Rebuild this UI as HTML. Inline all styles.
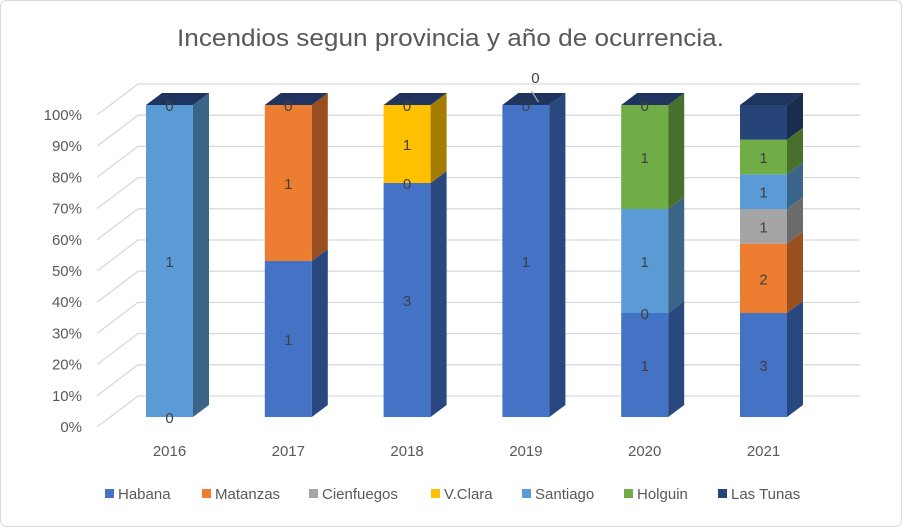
<!DOCTYPE html>
<html><head><meta charset="utf-8"><style>
html,body{margin:0;padding:0;background:#fff;}
svg{display:block;font-family:"Liberation Sans",sans-serif;}
</style></head><body>
<svg id="chart" width="902" height="527" viewBox="0 0 902 527">
<rect x="0.5" y="0.5" width="901" height="526" rx="6" fill="#fff" stroke="#d9d9d9"/>
<text x="177" y="46" font-size="24" fill="#595959" textLength="547" lengthAdjust="spacingAndGlyphs">Incendios segun provincia y año de ocurrencia.</text>
<g id="grid"></g><g id="bars"></g><g id="labels"></g><g id="legend"></g>
</svg>
<script>
const categories = ["2016","2017","2018","2019","2020","2021"];
const seriesNames = ["Habana","Matanzas","Cienfuegos","V.Clara","Santiago","Holguin","Las Tunas"];
const habana     = [0,1,3,1,1,3];
const matanzas   = [0,1,0,0,0,2];
const cienfuegos = [0,0,0,0,0,1];
const vclara     = [0,0,1,0,0,0];
const santiago   = [1,0,0,0,1,1];
const holguin    = [0,0,0,0,1,1];
const lastunas   = [0,0,0,0,0,1];
const yTickLabels = ["0%","10%","20%","30%","40%","50%","60%","70%","80%","90%","100%"];

const series=[habana,matanzas,cienfuegos,vclara,santiago,holguin,lastunas];
const front=["#4472C4","#ED7D31","#A5A5A5","#FFC000","#5B9BD5","#70AD47","#264478"];
const side=["#2A4880","#9A501E","#6B6B6B","#A67C00","#3A6589","#48702C","#182C4D"];
const topCol="#1F3560";
const NS="http://www.w3.org/2000/svg";
const y0=417,yH=312,dx=16,dy=-12,bw=47,x0=146,step=118.8;
const yS=p=>y0-p*yH;
const xS=i=>x0+i*step;
function mk(tag,attrs,parent){const e=document.createElementNS(NS,tag);for(const k in attrs)e.setAttribute(k,attrs[k]);parent.appendChild(e);return e;}
const G=document.getElementById('grid'),B=document.getElementById('bars'),L=document.getElementById('labels'),LG=document.getElementById('legend');
yTickLabels.forEach((t,k)=>{
  const p=k/10, yf=yS(p)+10, yb=yf-31;
  const d=mk('polyline',{points:`97,${yf} 138,${yb} 860,${yb}`,fill:'none',stroke:'#d9d9d9','stroke-width':1.3},G);
  
  const tx=mk('text',{x:82,y:yf+5,'text-anchor':'end','font-size':15,fill:'#595959'},G);
  
  tx.textContent=t;
});
categories.forEach((c,i)=>{
  const tx=mk('text',{x:xS(i)+bw/2,y:456,'text-anchor':'middle','font-size':15,fill:'#595959'},G);
  
  tx.textContent=c;
});
categories.forEach((c,i)=>{
  const total=series.reduce((a,s)=>a+s[i],0);
  let cum=0;const x=xS(i);
  series.forEach((s,j)=>{
    const v=s[i];const p0=cum/total,p1=(cum+v)/total;cum+=v;
    const ya=yS(p0),yb=yS(p1);
    if(v>0){
      const r=mk('rect',{x:x,y:yb,width:bw,height:ya-yb,fill:front[j]},B);
      
      
      const sd=mk('polygon',{points:`${x+bw},${ya} ${x+bw+dx},${ya+dy} ${x+bw+dx},${yb+dy} ${x+bw},${yb}`,fill:side[j]},B);
      
    }
    const showLabel=(j===6)?v===0:(v>0||(j===0&&i===0)||(j===1&&i===2)||(j===1&&i===4));
    if(showLabel){
      const t=mk('text',{x:x+bw/2,y:(ya+yb)/2+6,'text-anchor':'middle','font-size':15,fill:'#404040'},L);
      
      t.textContent=v;
    }
  });
  const yt=yS(1);
  const tp=mk('polygon',{points:`${x},${yt} ${x+dx},${yt+dy} ${x+bw+dx},${yt+dy} ${x+bw},${yt}`,fill:topCol},B);
  
});
const ll=mk('line',{x1:xS(3)+29,y1:91,x2:xS(3)+36,y2:102,stroke:'#a6a6a6','stroke-width':1.3},L);

const lt=mk('text',{x:xS(3)+33,y:83,'text-anchor':'middle','font-size':15,fill:'#404040'},L);

lt.textContent='0';
const legX=[105,202,309,431,522,624,718];
seriesNames.forEach((n,j)=>{
  const g=mk('g',{},LG);
  
  mk('rect',{x:legX[j],y:489,width:9,height:9,fill:front[j]},g);
  const t=mk('text',{x:legX[j]+13,y:499,'font-size':15,fill:'#595959'},g);
  t.textContent=n;
});
</script>
</body></html>
